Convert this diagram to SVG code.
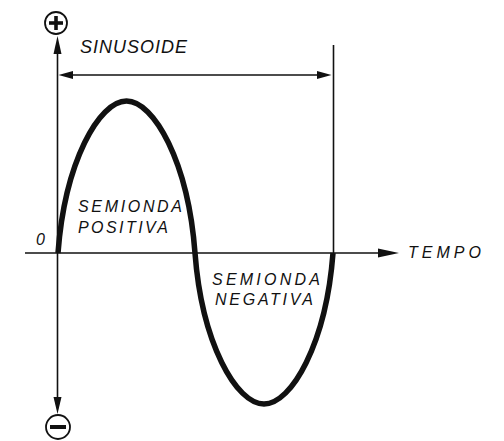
<svg xmlns="http://www.w3.org/2000/svg" width="504" height="441" viewBox="0 0 504 441">
<style>
.ax{stroke:#111;stroke-width:1.6;fill:none}
.wave{stroke:#111;stroke-width:5.5;fill:none;stroke-linecap:butt}
.ah{fill:#111}
.t{font-family:"Liberation Sans",Arial,sans-serif;font-style:italic;fill:#111}
.sym{stroke:#111;fill:none}
</style>
<rect width="504" height="441" fill="#fff"/>
<g id="connectors">
<line class="ax" x1="57.5" y1="50" x2="57.5" y2="400"/>
<path class="ah" d="M57.5,36 L61.5,54 L53.5,54 Z"/>
<path class="ah" d="M57.5,414 L61.5,397 L53.5,397 Z"/>
<line class="ax" x1="25" y1="253" x2="382" y2="253"/>
<path class="ah" d="M399,253 L378,248.5 L378,257.5 Z"/>
<line class="ax" x1="70" y1="75" x2="318" y2="75"/>
<path class="ah" d="M58.5,75 L73,71 L73,79 Z"/>
<path class="ah" d="M331.5,75 L317,71 L317,79 Z"/>
<line class="ax" x1="333.5" y1="45" x2="333.5" y2="253"/>
</g>
<g id="wave">
<path class="wave" d="M58,253 C64.85,161.8 99.1,101 126.5,101 C153.9,101 188.15,161.8 195,253 C201.9,343.6 236.4,404 264,404 C291.6,404 326.1,343.6 333,253"/>
</g>
<g id="plus">
<circle class="sym" cx="56" cy="23" r="11" stroke-width="1.8"/>
<line class="sym" x1="49" y1="23" x2="63" y2="23" stroke-width="3.6"/>
<line class="sym" x1="56" y1="16" x2="56" y2="30" stroke-width="3.6"/>
</g>
<g id="minus">
<circle class="sym" cx="58" cy="427" r="12" stroke-width="1.8"/>
<line class="sym" x1="50" y1="427" x2="66" y2="427" stroke-width="4"/>
</g>
<g id="labels">
<text class="t" x="80" y="53" font-size="18" textLength="107" lengthAdjust="spacing">SINUSOIDE</text>
<text class="t" x="36" y="245" font-size="16">0</text>
<text class="t" x="78" y="212" font-size="16" textLength="104" lengthAdjust="spacing">SEMIONDA</text>
<text class="t" x="78" y="233" font-size="16" textLength="90" lengthAdjust="spacing">POSITIVA</text>
<text class="t" x="212" y="285" font-size="16" textLength="108" lengthAdjust="spacing">SEMIONDA</text>
<text class="t" x="215" y="305" font-size="16" textLength="98" lengthAdjust="spacing">NEGATIVA</text>
<text class="t" x="408" y="258" font-size="16" textLength="73" lengthAdjust="spacing">TEMPO</text>
</g>
</svg>
